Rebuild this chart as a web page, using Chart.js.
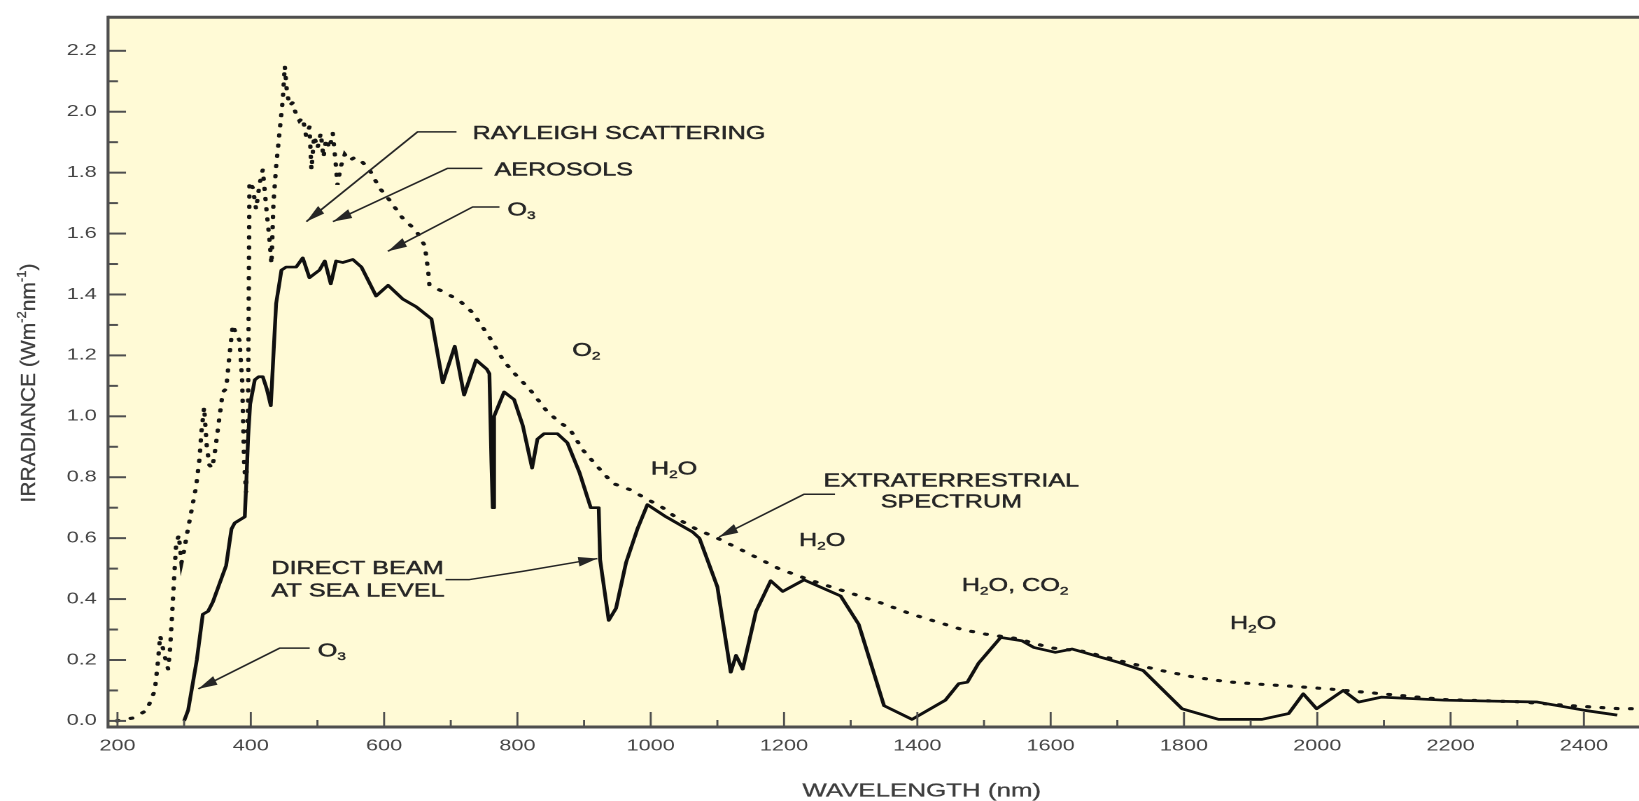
<!DOCTYPE html>
<html>
<head>
<meta charset="utf-8">
<title>Solar spectral irradiance</title>
<script src="https://cdn.jsdelivr.net/npm/chart.js@4.4.1/dist/chart.umd.min.js"></script>
<style>
  html, body { margin: 0; padding: 0; background: #ffffff; overflow: hidden; }
  /* the figure uses a wide, horizontally extended lettering and layout */
  #stage {
    position: absolute; left: 0; top: 0;
    width: 1171px; height: 801px;
    transform-origin: 0 0;
    transform: scaleX(1.399658);
  }
</style>
</head>
<body>
<div id="stage"><canvas id="chart"></canvas></div>
<script>
// ---- Extraterrestrial spectrum (top of atmosphere), W m^-2 nm^-1 ----
const extraWavelength = [
  199, 224, 244, 256, 261, 264, 270, 276, 279, 282,
  285, 288, 292, 296, 300, 304, 311, 318, 323, 326,
  330, 334, 338, 342, 346, 352, 358, 363, 368, 373,
  378, 383, 387, 390, 393, 396, 398, 403, 408, 413,
  418, 423, 428, 431, 434, 438, 443, 448, 451, 454,
  458, 463, 468, 473, 478, 483, 488, 491, 495, 500,
  505, 509, 513, 518, 523, 527, 530, 535, 541, 548,
  556, 565, 578, 593, 608, 628, 648, 661, 666, 668,
  688, 713, 733, 758, 780, 800, 818, 843, 863, 878,
  898, 918, 943, 968, 993, 1018, 1043, 1068, 1100, 1142,
  1192, 1242, 1292, 1342, 1392, 1467, 1502, 1550, 1600, 1650,
  1717, 1767, 1817, 1867, 1917, 1967, 2017, 2067, 2117, 2191,
  2300, 2380, 2454, 2480
];
const extraIrradiance = [
  0.00, 0.01, 0.035, 0.10, 0.20, 0.28, 0.22, 0.17, 0.24, 0.35,
  0.47, 0.58, 0.61, 0.52, 0.56, 0.61, 0.69, 0.77, 0.86, 0.95,
  1.03, 0.90, 0.84, 0.83, 0.88, 0.98, 1.08, 1.09, 1.20, 1.30,
  1.27, 1.25, 1.12, 0.85, 0.75, 1.05, 1.77, 1.75, 1.68, 1.76,
  1.81, 1.69, 1.58, 1.50, 1.70, 1.82, 1.93, 2.04, 2.15, 2.07,
  2.02, 2.03, 1.99, 1.97, 1.98, 1.92, 1.95, 1.81, 1.92, 1.88,
  1.93, 1.85, 1.91, 1.88, 1.93, 1.84, 1.76, 1.82, 1.86, 1.84,
  1.85, 1.84, 1.81, 1.75, 1.71, 1.65, 1.61, 1.56, 1.48, 1.43,
  1.41, 1.38, 1.34, 1.26, 1.18, 1.13, 1.09, 1.02, 0.98, 0.96,
  0.89, 0.84, 0.78, 0.76, 0.73, 0.70, 0.66, 0.63, 0.60, 0.555,
  0.50, 0.46, 0.425, 0.39, 0.35, 0.30, 0.285, 0.27, 0.24, 0.228,
  0.19, 0.165, 0.143, 0.128, 0.12, 0.113, 0.105, 0.095, 0.085, 0.07,
  0.063, 0.05, 0.04, 0.04
];

// ---- Direct beam at sea level, W m^-2 nm^-1 ----
const beamWavelength = [
  300, 306, 319, 328, 336, 343, 353, 363, 371, 376,
  391, 393, 396, 399, 406, 412, 418, 424, 430, 438,
  446, 453, 468, 478, 488, 503, 511, 520, 528, 538,
  553, 566, 588, 606, 628, 648, 671, 688, 706, 720,
  738, 754, 758, 761, 763, 765, 780, 795, 808, 822,
  830, 840, 860, 875, 893, 910, 922, 924, 937, 948,
  963, 980, 995, 1023, 1063, 1073, 1100, 1120, 1128, 1138,
  1158, 1180, 1198, 1230, 1285, 1312, 1350, 1392, 1442, 1462,
  1475, 1492, 1525, 1557, 1575, 1607, 1632, 1702, 1739, 1797,
  1852, 1917, 1957, 1979, 1999, 2039, 2062, 2096, 2191, 2330,
  2400, 2450
];
const beamIrradiance = [
  0.00, 0.035, 0.20, 0.35, 0.36, 0.39, 0.45, 0.51, 0.63, 0.65,
  0.67, 0.77, 0.93, 1.04, 1.12, 1.13, 1.13, 1.09, 1.035, 1.37,
  1.48, 1.49, 1.49, 1.52, 1.455, 1.48, 1.51, 1.435, 1.51, 1.505,
  1.515, 1.49, 1.395, 1.43, 1.385, 1.36, 1.32, 1.11, 1.23, 1.07,
  1.185, 1.155, 1.14, 0.85, 0.70, 1.00, 1.08, 1.055, 0.97, 0.83,
  0.925, 0.943, 0.943, 0.913, 0.816, 0.70, 0.70, 0.53, 0.33, 0.37,
  0.52, 0.63, 0.71, 0.67, 0.62, 0.60, 0.44, 0.16, 0.215, 0.17,
  0.36, 0.46, 0.425, 0.463, 0.41, 0.317, 0.05, 0.005, 0.068, 0.122,
  0.127, 0.19, 0.274, 0.263, 0.241, 0.225, 0.236, 0.192, 0.165, 0.04,
  0.005, 0.005, 0.024, 0.089, 0.04, 0.10, 0.062, 0.078, 0.068, 0.062,
  0.035, 0.019
];

// ---- Axis ticks ----
const wavelengthTicks = [200, 400, 600, 800, 1000, 1200, 1400, 1600, 1800, 2000, 2200, 2400];
const irradianceTicks = [0.0, 0.2, 0.4, 0.6, 0.8, 1.0, 1.2, 1.4, 1.6, 1.8, 2.0, 2.2];

const STRETCH = 1639 / 1171;
const FAMILY = '"Liberation Sans", Arial, Helvetica, sans-serif';
const INK = '#262626';
const AXIS = '#4f4f4f';
const TICK_TEXT = '#444444';

// Labels placed in data coordinates (wavelength, irradiance)
const labels = [
  { parts: ['RAYLEIGH SCATTERING'], at: [732.6, 1.931] },
  { parts: ['AEROSOLS'], at: [765.5, 1.811] },
  { parts: ['O', { sub: '3' }], at: [785, 1.68] },
  { parts: ['O', { sub: '2' }], at: [882.4, 1.219] },
  { parts: ['H', { sub: '2' }, 'O'], at: [1000.3, 0.830] },
  { parts: ['EXTRATERRESTRIAL'], at: [1451, 0.791], align: 'center' },
  { parts: ['SPECTRUM'], at: [1451, 0.721], align: 'center' },
  { parts: ['H', { sub: '2' }, 'O'], at: [1222.5, 0.596] },
  { parts: ['H', { sub: '2' }, 'O, CO', { sub: '2' }], at: [1466.7, 0.448] },
  { parts: ['H', { sub: '2' }, 'O'], at: [1869, 0.323] },
  { parts: ['DIRECT BEAM'], at: [431, 0.504] },
  { parts: ['AT SEA LEVEL'], at: [431, 0.430] },
  { parts: ['O', { sub: '3' }], at: [500.4, 0.233] }
];

// Leader lines; the last point of each is the arrow tip
const leaders = [
  [[708.6, 1.934], [650.2, 1.934], [483.4, 1.639]],
  [[747.5, 1.814], [695.1, 1.814], [523.3, 1.639]],
  [[773.0, 1.687], [732.6, 1.687], [605.7, 1.542]],
  [[1276.4, 0.744], [1230.0, 0.744], [1102.6, 0.604]],
  [[692.1, 0.464], [728.1, 0.464], [807.5, 0.491], [919.9, 0.533]],
  [[488.4, 0.239], [443.4, 0.239], [321.3, 0.105]]
];

function toPoints(xs, ys) {
  return xs.map((x, i) => ({ x: x, y: ys[i] }));
}

function midpoints(arr) {
  const out = [];
  for (let i = 0; i < arr.length - 1; i++) out.push((arr[i] + arr[i + 1]) / 2);
  return out;
}

function drawRich(ctx, parts, x, yMid, align, size, color, weight) {
  const mainFont = size + 'px ' + FAMILY;
  const smallFont = Math.round(size * 0.6) + 'px ' + FAMILY;
  const textOf = p => (typeof p === 'string' ? p : (p.sub || p.sup));
  let w = 0;
  for (const p of parts) {
    ctx.font = typeof p === 'string' ? mainFont : smallFont;
    w += ctx.measureText(textOf(p)).width;
  }
  let cx = align === 'center' ? x - w / 2 : x;
  const base = yMid + size * 0.358;
  ctx.fillStyle = color;
  ctx.strokeStyle = color;
  ctx.lineWidth = weight || 0;
  ctx.lineJoin = 'round';
  ctx.textAlign = 'left';
  ctx.textBaseline = 'alphabetic';
  for (const p of parts) {
    const t = textOf(p);
    let dy = 0;
    if (typeof p === 'string') ctx.font = mainFont;
    else { ctx.font = smallFont; dy = p.sub ? size * 0.2 : -size * 0.42; }
    ctx.fillText(t, cx, base + dy);
    if (weight) ctx.strokeText(t, cx, base + dy);
    cx += ctx.measureText(t).width;
  }
}

const plotBackground = {
  id: 'plotBackground',
  beforeDraw(chart) {
    const { ctx, chartArea: a } = chart;
    ctx.save();
    ctx.fillStyle = '#fffad6';
    ctx.fillRect(a.left, a.top, chart.width - a.left, a.bottom - a.top);
    ctx.restore();
  }
};

const frameAndTicks = {
  id: 'frameAndTicks',
  afterDatasetsDraw(chart) {
    const { ctx, chartArea: a, scales: { x, y } } = chart;
    ctx.save();
    ctx.strokeStyle = AXIS;
    ctx.lineCap = 'butt';

    // inward tick marks on the irradiance axis
    ctx.lineWidth = 2;
    const yMinor = midpoints(irradianceTicks);
    for (const v of irradianceTicks) {
      const py = y.getPixelForValue(v);
      ctx.beginPath(); ctx.moveTo(a.left, py); ctx.lineTo(a.left + 18 / STRETCH, py); ctx.stroke();
    }
    for (const v of yMinor) {
      const py = y.getPixelForValue(v);
      ctx.beginPath(); ctx.moveTo(a.left, py); ctx.lineTo(a.left + 10 / STRETCH, py); ctx.stroke();
    }

    // inward tick marks on the wavelength axis
    ctx.lineWidth = 2 / STRETCH;
    const xMinor = midpoints(wavelengthTicks);
    for (const v of wavelengthTicks) {
      const px = x.getPixelForValue(v);
      ctx.beginPath(); ctx.moveTo(px, a.bottom); ctx.lineTo(px, a.bottom - 15); ctx.stroke();
    }
    for (const v of xMinor) {
      const px = x.getPixelForValue(v);
      ctx.beginPath(); ctx.moveTo(px, a.bottom); ctx.lineTo(px, a.bottom - 7); ctx.stroke();
    }

    // frame: top, bottom, left
    ctx.lineWidth = 3;
    ctx.beginPath();
    ctx.moveTo(a.left, a.top); ctx.lineTo(chart.width, a.top);
    ctx.moveTo(a.left, a.bottom); ctx.lineTo(chart.width, a.bottom);
    ctx.stroke();
    ctx.lineWidth = 3 / STRETCH;
    ctx.beginPath();
    ctx.moveTo(a.left, a.top - 1.5); ctx.lineTo(a.left, a.bottom + 1.5);
    ctx.stroke();
    ctx.restore();
  }
};

const annotations = {
  id: 'annotations',
  afterDraw(chart) {
    const { ctx, scales: { x, y } } = chart;
    ctx.save();

    // leader lines with filled arrowheads
    ctx.strokeStyle = INK;
    ctx.fillStyle = INK;
    ctx.lineWidth = 1.5;
    ctx.lineJoin = 'round';
    for (const path of leaders) {
      const pts = path.map(p => [x.getPixelForValue(p[0]), y.getPixelForValue(p[1])]);
      ctx.beginPath();
      pts.forEach((p, i) => (i ? ctx.lineTo(p[0], p[1]) : ctx.moveTo(p[0], p[1])));
      ctx.stroke();
      const tip = pts[pts.length - 1], prev = pts[pts.length - 2];
      const dx = (tip[0] - prev[0]) * STRETCH, dy = tip[1] - prev[1];
      const len = Math.hypot(dx, dy), ux = dx / len, uy = dy / len;
      const L = 19, hw = 4.8;
      const tx = tip[0] * STRETCH, ty = tip[1];
      const bx = tx - ux * L, by = ty - uy * L;
      ctx.beginPath();
      ctx.moveTo(tx / STRETCH, ty);
      ctx.lineTo((bx - uy * hw) / STRETCH, by + ux * hw);
      ctx.lineTo((bx + uy * hw) / STRETCH, by - ux * hw);
      ctx.closePath();
      ctx.fill();
    }

    // in-plot labels
    for (const lab of labels) {
      drawRich(ctx, lab.parts, x.getPixelForValue(lab.at[0]), y.getPixelForValue(lab.at[1]),
               lab.align || 'left', 18, INK, 0.45);
    }

    // axis titles
    drawRich(ctx, ['WAVELENGTH (nm)'], 921.7 / STRETCH, 790, 'center', 18.5, '#3e3e3e', 0.3);

    ctx.save();
    ctx.translate(27.5 / STRETCH, 383);
    ctx.scale(1 / STRETCH, 1);
    ctx.rotate(-Math.PI / 2);
    drawRich(ctx, ['IRRADIANCE (Wm', { sup: '-2' }, 'nm', { sup: '-1' }, ')'], 0, 0, 'center', 21, '#3e3e3e', 0.3);
    ctx.restore();

    ctx.restore();
  }
};

new Chart(document.getElementById('chart'), {
  type: 'line',
  data: {
    datasets: [
      {
        label: 'Extraterrestrial spectrum',
        data: toPoints(extraWavelength, extraIrradiance),
        borderColor: '#141414',
        borderWidth: 3.1,
        borderDash: [1.2, 9],
        borderCapStyle: 'round',
        pointRadius: 0,
        tension: 0,
        fill: false
      },
      {
        label: 'Direct beam at sea level',
        data: toPoints(beamWavelength, beamIrradiance),
        borderColor: '#101010',
        borderWidth: 2.7,
        borderJoinStyle: 'round',
        pointRadius: 0,
        tension: 0,
        fill: false
      }
    ]
  },
  options: {
    responsive: true,
    maintainAspectRatio: false,
    devicePixelRatio: 2,
    animation: false,
    events: [],
    layout: { padding: { top: 10, right: 0, bottom: 0, left: 0 } },
    plugins: {
      legend: { display: false },
      tooltip: { enabled: false }
    },
    scales: {
      x: {
        type: 'linear',
        min: 185.8,
        max: 2479.4,
        afterBuildTicks(scale) { scale.ticks = wavelengthTicks.map(v => ({ value: v })); },
        afterFit(scale) { scale.height = 74; },
        grid: { display: false, drawTicks: false },
        border: { display: false },
        ticks: {
          padding: 10,
          maxRotation: 0,
          autoSkip: false,
          color: TICK_TEXT,
          font: { family: FAMILY, size: 15.5 },
          callback: v => String(v)
        }
      },
      y: {
        type: 'linear',
        min: -0.02,
        max: 2.31,
        afterBuildTicks(scale) { scale.ticks = irradianceTicks.map(v => ({ value: v })); },
        afterFit(scale) { scale.width = 108 / STRETCH; },
        grid: { display: false, drawTicks: false },
        border: { display: false },
        ticks: {
          padding: 8,
          autoSkip: false,
          color: TICK_TEXT,
          font: { family: FAMILY, size: 15.5 },
          callback: v => Number(v).toFixed(1)
        }
      }
    }
  },
  plugins: [plotBackground, frameAndTicks, annotations]
});
</script>
</body>
</html>
